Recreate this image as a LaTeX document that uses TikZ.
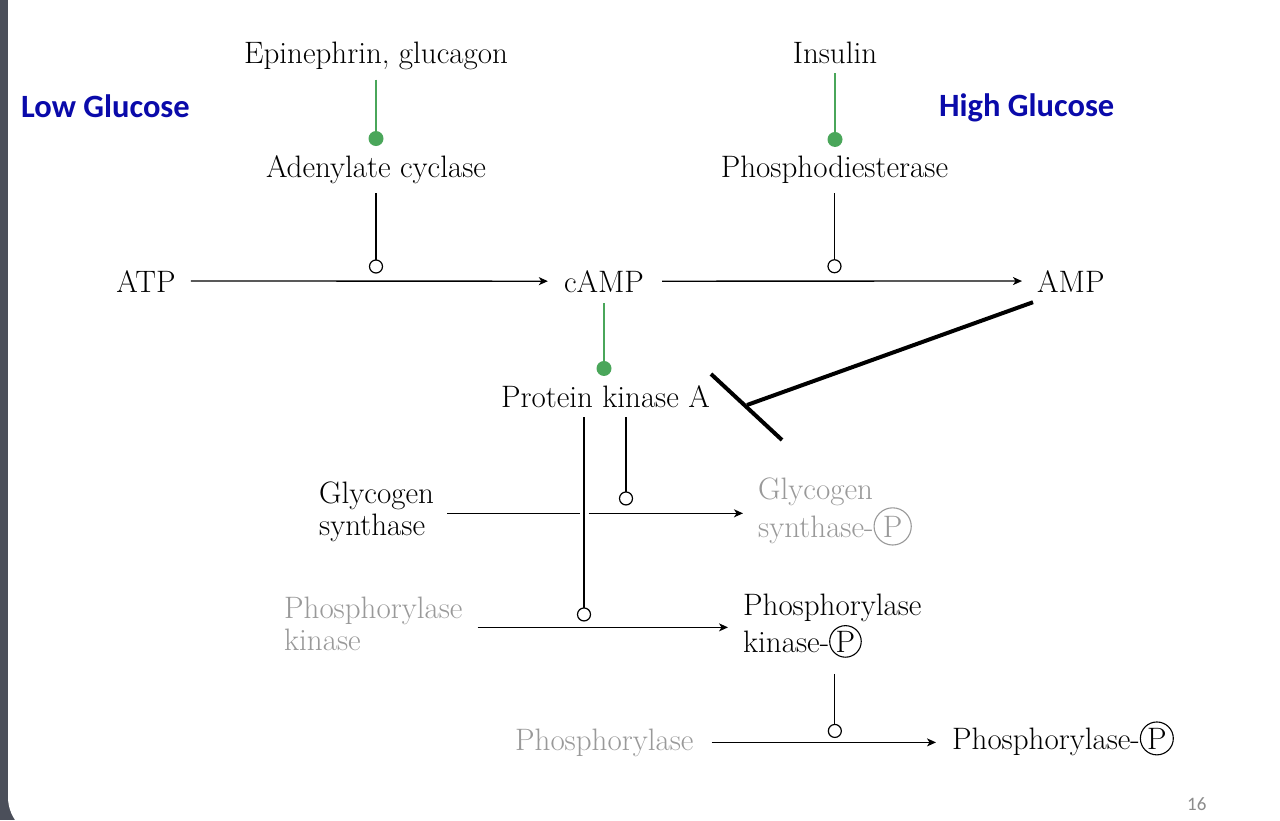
\documentclass[tikz,border=0pt]{standalone}
\usepackage{fontspec}
\newfontfamily\carl{Carlito}
\usetikzlibrary{arrows.meta}
\definecolor{slideband}{HTML}{4B4F5A}
\definecolor{dotgreen}{HTML}{4AA65A}
\definecolor{txtgray}{HTML}{999999}
\definecolor{pagegray}{HTML}{8C8C8C}
\definecolor{titleblue}{HTML}{0A0AAA}
\newcommand{\circP}[2]{\tikz[baseline=(cp.base)]\node[draw=#1,text=#1,circle,inner sep=#2,line width=1.1pt](cp){P};}
\begin{document}
\begin{tikzpicture}[x=1pt,y=-1pt,
  txt/.style={inner sep=0pt,font=\fontsize{31}{32}\selectfont},
  hdr/.style={inner sep=0pt,font=\carl\bfseries\fontsize{32.5}{38}\selectfont,text=titleblue},
  arr/.style={draw=black,line width=1.3pt,-{Stealth[length=9pt,width=8pt,inset=2.5pt]}},
  tline/.style={draw=black,line width=1.3pt},
  gline/.style={draw=dotgreen,line width=1.2pt},
  ocirc/.style={draw=black,line width=1.2pt,fill=white},
  blocker/.style={draw=black,line width=4pt},
  faded/.style={text=txtgray}]
\useasboundingbox (0,0) rectangle (1280,820);
\fill[slideband] (0,0) rectangle (80,820);
\fill[white,rounded corners=41pt] (8,-60) rectangle (1340,838);
% headers
\node[hdr,anchor=base west] (low) at (21,117) {Low Glucose};
\node[hdr,anchor=base west] (high) at (939,116) {High Glucose};
% nodes
\node[txt,anchor=base] (epi) at (376,63) {Epinephrin, glucagon};
\node[txt,anchor=base] (ins) at (835,63) {Insulin};
\node[txt,anchor=base] (ac) at (376,177) {Adenylate cyclase};
\node[txt,anchor=base] (pde) at (834.5,177) {Phosphodiesterase};
\node[txt,anchor=base] (atp) at (146,292) {ATP};
\node[txt,anchor=base] (camp) at (604,292) {cAMP};
\node[txt,anchor=base west] (amp) at (1037,292) {AMP};
\node[txt,anchor=base] (pka) at (605.5,407) {Protein kinase A};
\node[txt,anchor=base west,align=left,font=\fontsize{31}{32}\selectfont] (gs) at (319,535) {Glycogen\\synthase};
\node[txt,faded,anchor=base west,align=left,font=\fontsize{31}{35}\selectfont] (gsp) at (758,537) {Glycogen\\synthase-\circP{txtgray}{3pt}};
\node[txt,faded,anchor=base west,align=left,font=\fontsize{31}{32}\selectfont] (phk) at (284,650) {Phosphorylase\\kinase};
\node[txt,anchor=base west,align=left,font=\fontsize{31}{37}\selectfont] (phkp) at (743,652) {Phosphorylase\\kinase-\circP{black}{1pt}};
\node[txt,faded,anchor=base west] (ph) at (515,750) {Phosphorylase};
\node[txt,anchor=base west] (php) at (952,749) {Phosphorylase-\circP{black}{1.5pt}};
\node[anchor=base west,inner sep=0pt,font=\carl\fontsize{19}{22}\selectfont,text=pagegray] (pg) at (1187,810) {16};
% green activations
\draw[gline] ([yshift=-10pt]epi.south) -- ++(0,59) coordinate (acdot);
\fill[dotgreen] (acdot) circle[radius=7.5pt];
\draw[gline] ([yshift=-10pt]ins.south) -- ++(0,66) coordinate (pdedot);
\fill[dotgreen] (pdedot) circle[radius=7.5pt];
\draw[gline] ([yshift=-11pt]camp.south) -- ++(0,65) coordinate (pkadot);
\fill[dotgreen] (pkadot) circle[radius=7.5pt];
% main arrows
\draw[arr,shorten <=15pt,shorten >=16pt] (atp.east) -- (camp.west);
\draw[arr,shorten <=18pt,shorten >=15pt] (camp.east) -- (amp.west);
% catalysis lines with open circles
\draw[tline] ([yshift=-10pt]ac.south) -- ++(0,73) coordinate (c1);
\draw[ocirc] (c1) circle[radius=6.5pt];
\draw[tline] ([yshift=-10pt]pde.south) -- ++(0,73) coordinate (c2);
\draw[ocirc] (c2) circle[radius=6.5pt];
\draw[tline] ([xshift=20.5pt,yshift=-10pt]pka.south) -- ++(0,81) coordinate (c3);
\draw[ocirc] (c3) circle[radius=6.5pt];
\draw[tline] ([xshift=-21.5pt,yshift=-10pt]pka.south) coordinate (lv) -- ++(0,197) coordinate (c4);
\draw[ocirc] (c4) circle[radius=6.5pt];
% glycogen synthase arrow with gap
\draw[tline] ([xshift=13pt,yshift=-2pt]gs.east) -- ([xshift=-4.5pt,yshift=-2pt]gs.east -| lv);
\draw[arr] ([xshift=4.5pt,yshift=-2pt]gs.east -| lv) -- ([xshift=-15pt,yshift=-2pt]gsp.west |- gs.east);
% phosphorylase kinase arrow
\draw[arr,shorten <=15pt,shorten >=15pt] ([yshift=-4pt]phk.east) -- ([yshift=-4pt]phkp.west |- phk.east);
% phosphorylase arrow
\draw[arr,shorten <=18pt,shorten >=16pt] (ph.east) -- (php.west |- ph.east);
\draw[tline] ([xshift=2.5pt,yshift=-16pt]phkp.south) -- ++(0,57) coordinate (c5);
\draw[ocirc] (c5) circle[radius=6.5pt];
% AMP inhibits PKA
\draw[blocker] ([xshift=-4pt,yshift=-10pt]amp.south west) -- (747,405) coordinate (bar);
\draw[blocker] (bar) ++(-36,-31) -- ++(71,66);
\end{tikzpicture}
\end{document}
